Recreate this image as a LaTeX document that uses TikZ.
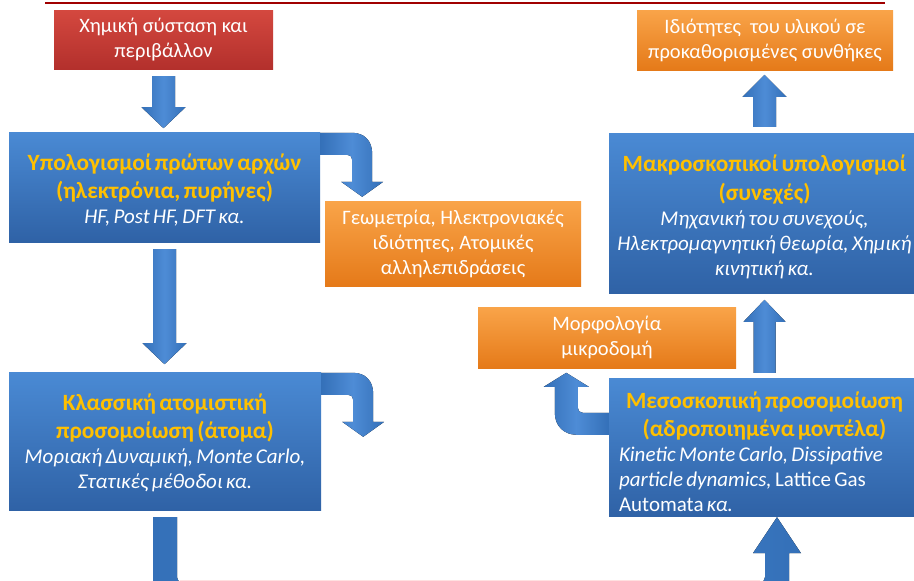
\documentclass[tikz,border=0pt]{standalone}
\usepackage{fontspec}
\setmainfont{Carlito}
\definecolor{bluetop}{HTML}{4A8AD4}
\definecolor{bluebot}{HTML}{2F62A6}
\definecolor{orgtop}{HTML}{F9A449}
\definecolor{orgbot}{HTML}{E57A19}
\definecolor{redtop}{HTML}{D4483F}
\definecolor{redbot}{HTML}{B3302C}
\definecolor{titlegold}{HTML}{FFC000}
\definecolor{arrdark}{HTML}{3470B8}
\definecolor{arrlight}{HTML}{4E8CD6}
\definecolor{topline}{HTML}{A00000}
\newcommand\mybox{\fontsize{20.5}{25}\selectfont}
\newcommand\mytit{\upshape\bfseries\color{titlegold}\fontsize{23.3}{28.5}\selectfont}
\newcommand\mysub{\mdseries\itshape\color{white}\fontsize{21}{25}\selectfont}
\tikzset{
  box/.style={rectangle, inner sep=0pt, text=white, draw=none},
  bluebox/.style={box, top color=bluetop, bottom color=bluebot},
  orangebox/.style={box, top color=orgtop, bottom color=orgbot, align=center, font=\mybox},
  redbox/.style={box, top color=redtop, bottom color=redbot, align=center, font=\mybox},
  textblock/.style={inner sep=0pt, text=white, text width=#1},
  blockarrow/.style={left color=arrdark, right color=arrdark, middle color=arrlight, draw=none}
}
\begin{document}
\begin{tikzpicture}[x=1pt,y=-1pt]
\useasboundingbox (0,0) rectangle (914,581);
\clip (0,0) rectangle (914,581);
\fill[white] (0,0) rectangle (914,581);
\draw[topline, line width=2.5pt] (45,3) -- (885,3);
\draw[red!12, line width=1pt] (180,580.5) -- (760,580.5);

% boxes
\node[redbox, minimum width=219pt, minimum height=59pt] (comp) at (163.5,39.5)
  {Χημική σύσταση και\\περιβάλλον};
\node[bluebox, minimum width=311pt, minimum height=110pt] (qm) at (164.5,187) {};
\node[textblock=305pt] (qmtext) at ([yshift=-3pt]qm.center)
  {\centering\mytit Υπολογισμοί πρώτων αρχών\\(ηλεκτρόνια, πυρήνες)\par
   \mysub HF, Post HF, DFT κα.\par};
\node[orangebox, minimum width=256pt, minimum height=85pt] (geo) at (453,243.5)
  {Γεωμετρία, Ηλεκτρονιακές\\ιδιότητες, Ατομικές\\αλληλεπιδράσεις};
\node[bluebox, minimum width=312pt, minimum height=138pt] (cl) at (165,441) {};
\node[textblock=305pt] (cltext) at ([yshift=-2pt]cl.center)
  {\centering\mytit Κλασσική ατομιστική\\προσομοίωση (άτομα)\par
   \mysub Μοριακή Δυναμική, Monte Carlo,\\Στατικές μέθοδοι κα.\par};
\node[orangebox, minimum width=256pt, minimum height=60pt] (prop) at (765,40)
  {Ιδιότητες~ του υλικού σε\\προκαθορισμένες συνθήκες};
\node[bluebox, minimum width=311pt, minimum height=160pt] (macro) at (764.5,213) {};
\node[textblock=305pt] (macrotext) at ([yshift=-4pt]macro.center)
  {\centering\mytit Μακροσκοπικοί υπολογισμοί\\(συνεχές)\par
   \mysub Μηχανική του συνεχούς,\\Ηλεκτρομαγνητική θεωρία, Χημική\\κινητική κα.\par};
\node[orangebox, minimum width=258pt, minimum height=61pt] (morph) at (607,337.5)
  {Μορφολογία\\μικροδομή};
\node[bluebox, minimum width=311pt, minimum height=138pt] (meso) at (764.5,447) {};
\node[textblock=291pt] (mesotext) at ([yshift=-5pt]meso.center)
  {{\centering\mytit Μεσοσκοπική προσομοίωση\\(αδροποιημένα μοντέλα)\par}
   {\raggedright\mysub Kinetic Monte Carlo, Dissipative\\particle dynamics,{\upshape\ Lattice Gas}\\{\upshape Automata} κα.\par}};

% straight block arrows
\begin{scope}[shift={(comp.south)}]
  \fill[blockarrow] (-11.5,7) -- (11.5,7) -- (11.5,38) -- (22,38) -- (0,59) -- (-22,38) -- (-11.5,38) -- cycle;
\end{scope}
\begin{scope}[shift={(qm.south)}]
  \fill[blockarrow] (-11.5,7) -- (11.5,7) -- (11.5,101) -- (22,101) -- (0,122) -- (-22,101) -- (-11.5,101) -- cycle;
\end{scope}
\begin{scope}[shift={(macro.north)}]
  \fill[blockarrow] (-11.5,-6) -- (11.5,-6) -- (11.5,-36) -- (22,-36) -- (0,-58) -- (-22,-36) -- (-11.5,-36) -- cycle;
\end{scope}
\begin{scope}[shift={(meso.north)}]
  \fill[blockarrow] (-11,-5) -- (11,-5) -- (11,-56) -- (21,-56) -- (0,-78) -- (-21,-56) -- (-11,-56) -- cycle;
\end{scope}

% bent block arrows
\begin{scope}[shift={(qm.north east)}]
  \fill[blockarrow] (0,1) -- (32,1) .. controls (44,1) and (52,9) .. (52,22) -- (52,50) -- (63,50) -- (42,65)
    -- (21,50) -- (32,50) -- (32,28) .. controls (32,25) and (30,23) .. (27,23) -- (0,23) -- cycle;
\end{scope}
\begin{scope}[shift={(cl.north east)}]
  \fill[blockarrow] (0,1) -- (32,1) .. controls (44,1) and (52,9) .. (52,22) -- (52,50) -- (63,50) -- (42,65)
    -- (21,50) -- (32,50) -- (32,28) .. controls (32,25) and (30,23) .. (27,23) -- (0,23) -- cycle;
\end{scope}
\begin{scope}[shift={(meso.north west)}]
  \fill[blockarrow] (0,35) -- (-26,35) .. controls (-29,35) and (-31,33) .. (-31,30) -- (-31,9) -- (-20,9)
    -- (-42.5,-5) -- (-65,9) -- (-54,9) -- (-54,35) .. controls (-54,48) and (-45,57) .. (-32,57) -- (0,57) -- cycle;
\end{scope}
\begin{scope}[shift={(cl.south)}]
  \fill[blockarrow] (-12,7) -- (-12,74) .. controls (-12,87) and (-3,96) .. (10,96) -- (602,96)
    .. controls (615,96) and (624,87) .. (624,74) -- (624,43) -- (636,43) -- (612,7) -- (588,43) -- (600,43)
    -- (600,67) .. controls (600,70) and (598,72) .. (595,72) -- (17,72) .. controls (14,72) and (12,70) .. (12,67)
    -- (12,7) -- cycle;
\end{scope}
\end{tikzpicture}
\end{document}
